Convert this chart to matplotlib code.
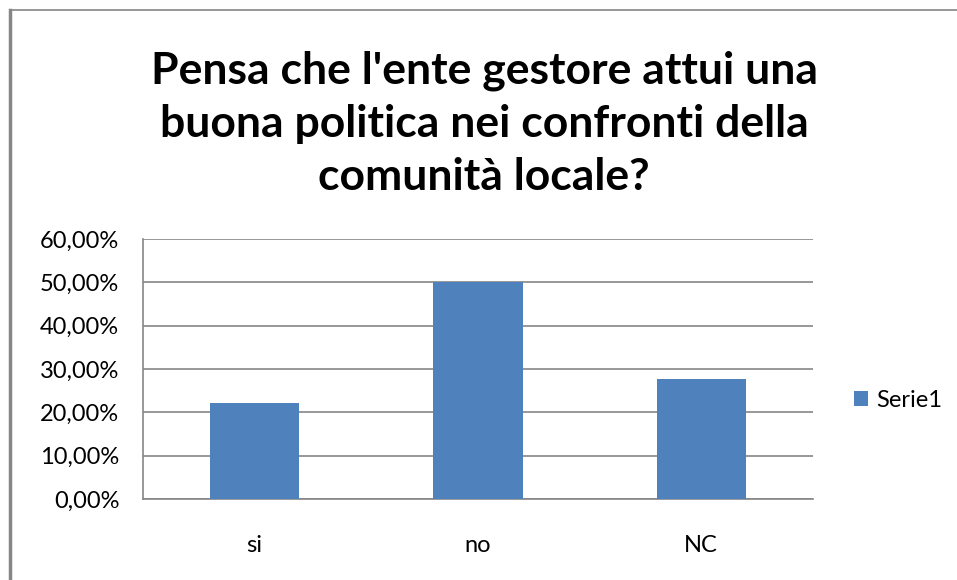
import matplotlib.pyplot as plt
from matplotlib.lines import Line2D
from matplotlib.ticker import FuncFormatter

# dati
categorie = ['si', 'no', 'NC']
valori = [22.22, 50.0, 27.78]
serie = 'Serie1'
titolo = "Pensa che l'ente gestore attui una\nbuona politica nei confronti della\ncomunità locale?"

plt.rcParams['font.family'] = ['Lato', 'DejaVu Sans']

fig = plt.figure(figsize=(9.57, 5.80), dpi=100)
ax = fig.add_axes([0.1494, 0.1397, 0.7001, 0.4483])

ax.bar(categorie, valori, width=0.4, color='#4f81bd', label=serie, zorder=3)
ax.set_ylim(0, 60)
ax.set_yticks(range(0, 61, 10))
ax.yaxis.set_major_formatter(FuncFormatter(lambda v, p: f'{v:.2f}%'.replace('.', ',')))
ax.set_xlim(-0.5, 2.5)
ax.grid(axis='y', color='#868686', linewidth=1.2, zorder=0)
for s in ['top', 'right']:
    ax.spines[s].set_visible(False)
for s in ['left', 'bottom']:
    ax.spines[s].set_color('#868686')
    ax.spines[s].set_linewidth(1.2)
ax.tick_params(axis='both', length=0, labelsize=17, colors='#000000')
ax.tick_params(axis='y', pad=17)
ax.tick_params(axis='x', pad=26)

fig.text(0.506, 0.787, titolo, ha='center', va='center', fontsize=32,
         fontweight='bold', linespacing=1.4)

fig.legend(loc='center left', bbox_to_anchor=(0.87, 0.31), frameon=False,
           fontsize=17, handlelength=0.6, handleheight=0.6, handletextpad=0.35)

# cornice
fig.add_artist(Line2D([0.0105, 0.0105], [0, 0.983], color='#868686', linewidth=2.5))
fig.add_artist(Line2D([0.0105, 1], [0.983, 0.983], color='#868686', linewidth=1.2))

fig.savefig('out.png', dpi=100)
